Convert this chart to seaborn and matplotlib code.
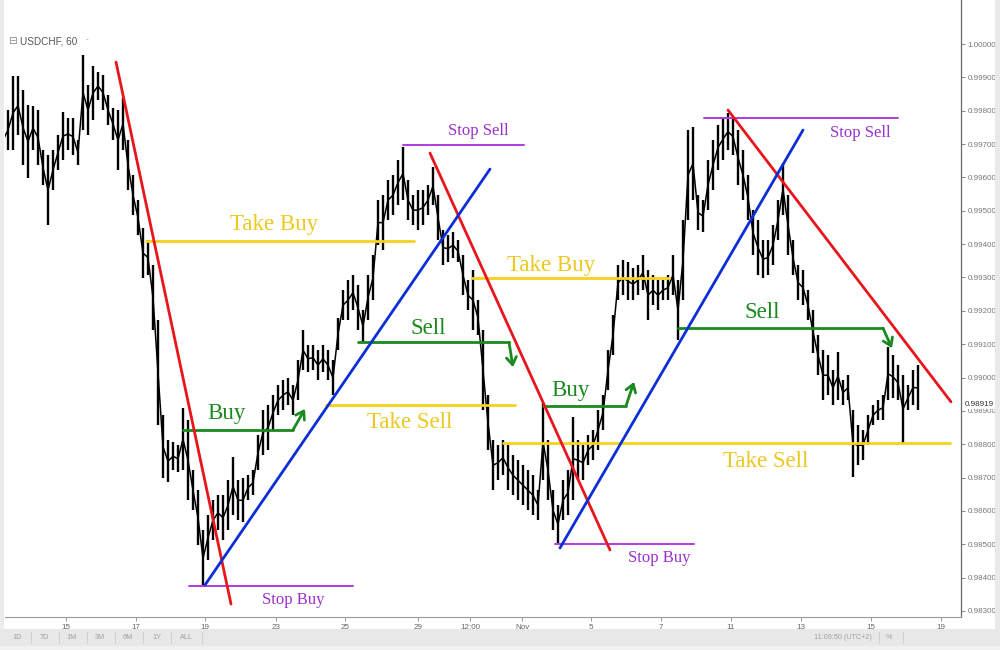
import numpy as np
import pandas as pd
import matplotlib
matplotlib.use("Agg")
import matplotlib.pyplot as plt
import matplotlib.transforms as mtrans
from matplotlib.patches import Rectangle
from matplotlib.ticker import FixedLocator, FuncFormatter
import seaborn as sns

# ---------------- data ----------------
symbol = "USDCHF, 60"
last_price = 0.98919

bar_high = [
    0.99742, 0.99802, 0.99904, 0.99904, 0.99862, 0.99817, 0.99814, 0.99802, 0.99682, 0.99667,
    0.99682, 0.99727, 0.99796, 0.99778, 0.99778, 0.99712, 0.99967, 0.99877, 0.99934, 0.99916,
    0.99907, 0.99847, 0.99808, 0.99802, 0.99838, 0.99712, 0.99607, 0.99532, 0.99448, 0.99412,
    0.99337, 0.99172, 0.98887, 0.98812, 0.98806, 0.98797, 0.98908, 0.98872, 0.98722, 0.98662,
    0.98542, 0.98587, 0.98632, 0.98647, 0.98647, 0.98692, 0.98761, 0.98692, 0.98698, 0.98707,
    0.98722, 0.98827, 0.98902, 0.98917, 0.98947, 0.98977, 0.98992, 0.98998, 0.98977, 0.99052,
    0.99142, 0.99097, 0.99097, 0.99082, 0.99097, 0.99082, 0.99052, 0.99178, 0.99262, 0.99292,
    0.99307, 0.99277, 0.99202, 0.99307, 0.99367, 0.99532, 0.99547, 0.99592, 0.99607, 0.99652,
    0.99691, 0.99592, 0.99547, 0.99562, 0.99562, 0.99577, 0.99631, 0.99547, 0.99442, 0.99427,
    0.99436, 0.99412, 0.99367, 0.99292, 0.99322, 0.99232, 0.99142, 0.98947, 0.98812, 0.98797,
    0.98812, 0.98797, 0.98767, 0.98752, 0.98737, 0.98722, 0.98707, 0.98662, 0.98923, 0.98812,
    0.98662, 0.98617, 0.98692, 0.98722, 0.98881, 0.98812, 0.98797, 0.98827, 0.98842, 0.98902,
    0.98947, 0.99082, 0.99187, 0.99337, 0.99352, 0.99346, 0.99328, 0.99337, 0.99367, 0.99322,
    0.99307, 0.99292, 0.99292, 0.99307, 0.99367, 0.99292, 0.99472, 0.99742, 0.99751, 0.99547,
    0.99532, 0.99652, 0.99712, 0.99757, 0.99778, 0.99793, 0.99778, 0.99742, 0.99682, 0.99607,
    0.99502, 0.99472, 0.99412, 0.99412, 0.99457, 0.99532, 0.99643, 0.99547, 0.99412, 0.99337,
    0.99322, 0.99262, 0.99202, 0.99127, 0.99082, 0.99067, 0.99022, 0.99076, 0.98992, 0.99007,
    0.98902, 0.98857, 0.98842, 0.98887, 0.98917, 0.98932, 0.98947, 0.99091, 0.99067, 0.99037,
    0.99007, 0.98977, 0.99022, 0.99037,
]
bar_low = [
    0.99682, 0.99682, 0.99682, 0.99727, 0.99637, 0.99598, 0.99682, 0.99637, 0.99577, 0.99457,
    0.99562, 0.99622, 0.99652, 0.99682, 0.99667, 0.99637, 0.99742, 0.99727, 0.99772, 0.99832,
    0.99802, 0.99757, 0.99712, 0.99622, 0.99682, 0.99562, 0.99487, 0.99427, 0.99298, 0.99307,
    0.99142, 0.98857, 0.98698, 0.98686, 0.98722, 0.98716, 0.98722, 0.98632, 0.98602, 0.98497,
    0.98374, 0.98452, 0.98512, 0.98542, 0.98512, 0.98542, 0.98587, 0.98572, 0.98566, 0.98632,
    0.98647, 0.98722, 0.98767, 0.98782, 0.98842, 0.98887, 0.98902, 0.98917, 0.98887, 0.98932,
    0.99022, 0.99016, 0.99022, 0.98992, 0.99016, 0.98992, 0.98947, 0.99082, 0.99172, 0.99172,
    0.99202, 0.99142, 0.99106, 0.99172, 0.99232, 0.99397, 0.99382, 0.99472, 0.99487, 0.99517,
    0.99532, 0.99472, 0.99457, 0.99442, 0.99457, 0.99487, 0.99517, 0.99412, 0.99337, 0.99346,
    0.99358, 0.99346, 0.99247, 0.99202, 0.99142, 0.99127, 0.98902, 0.98782, 0.98662, 0.98692,
    0.98707, 0.98662, 0.98647, 0.98632, 0.98617, 0.98602, 0.98587, 0.98572, 0.98692, 0.98632,
    0.98542, 0.98503, 0.98572, 0.98587, 0.98632, 0.98692, 0.98692, 0.98737, 0.98752, 0.98782,
    0.98842, 0.98962, 0.99067, 0.99232, 0.99247, 0.99232, 0.99232, 0.99247, 0.99262, 0.99172,
    0.99217, 0.99202, 0.99232, 0.99232, 0.99247, 0.99112, 0.99232, 0.99472, 0.99532, 0.99442,
    0.99436, 0.99502, 0.99562, 0.99622, 0.99652, 0.99682, 0.99667, 0.99577, 0.99532, 0.99472,
    0.99367, 0.99307, 0.99298, 0.99307, 0.99337, 0.99412, 0.99487, 0.99367, 0.99307, 0.99232,
    0.99217, 0.99172, 0.99073, 0.99007, 0.98932, 0.98947, 0.98917, 0.98932, 0.98917, 0.98932,
    0.98701, 0.98737, 0.98752, 0.98797, 0.98857, 0.98872, 0.98872, 0.98932, 0.98938, 0.98932,
    0.98803, 0.98902, 0.98917, 0.98902,
]

# x-axis labels and the bar each one sits on
tick_labels = ["15", "17", "19", "23", "25", "29", "12:00", "Nov", "5", "7", "11", "13", "15", "19"]
tick_bars = [12.6, 26.6, 40.4, 54.6, 68.4, 83.0, 93.4, 103.8, 117.6, 131.6, 145.6, 159.6, 173.6, 187.6]

# price-axis labels
price_ticks = [0.983, 0.984, 0.985, 0.986, 0.987, 0.988, 0.989, 0.990, 0.991,
               0.992, 0.993, 0.994, 0.995, 0.996, 0.997, 0.998, 0.999, 1.000]

# trend lines: (start bar, start price, end bar, end price)
red_lines = [(22.6, 0.99946, 45.6, 0.98321),
             (85.4, 0.99673, 121.4, 0.98483),
             (145.0, 0.99802, 189.6, 0.98927)]
blue_lines = [(40.4, 0.98378, 97.4, 0.99625),
              (111.4, 0.98489, 160.0, 0.99742)]

# horizontal levels: (from bar, to bar, price)
stop_levels = [(37.2, 70.0, 0.98375), (80.0, 104.2, 0.99697),
               (110.4, 138.2, 0.98501), (140.2, 179.0, 0.99778)]
take_levels = [(28.6, 82.2, 0.99409), (64.6, 102.4, 0.98918),
               (93.8, 133.2, 0.99298), (100.0, 189.4, 0.98804)]
entry_levels = [(36.0, 58.0, 0.98843), (71.0, 101.2, 0.99106),
                (108.0, 124.6, 0.98915), (135.0, 176.0, 0.99148)]
# arrow tips after each entry level
entry_tips = [(60.4, 0.98906), (102.0, 0.99031), (126.2, 0.98987), (177.8, 0.99088)]

stop_names = ["Stop Buy", "Stop Sell", "Stop Buy", "Stop Sell"]
take_names = ["Take Buy", "Take Sell", "Take Buy", "Take Sell"]
entry_names = ["Buy", "Sell", "Buy", "Sell"]

# label anchor positions (layout)
stop_text_pos = [(58.0, 0.98333), (95.0, 0.99739), (131.2, 0.98459), (171.4, 0.99733)]
take_text_pos = [(54.2, 0.99460), (81.4, 0.98864), (109.6, 0.99337), (152.6, 0.98747)]
entry_text_pos = [(44.6, 0.98891), (85.0, 0.99148), (113.4, 0.98960), (151.8, 0.99196)]

# ---------------- styling ----------------
RED = "#e8161c"
BLUE = "#0c2ed8"
GOLD = "#f6d21a"
GOLD_TXT = "#ecc820"
GREEN = "#1b8a1e"
PURPLE = "#b03ae0"
PURPLE_TXT = "#9b2fd2"

sns.set_theme(style="white")
plt.rcParams["font.family"] = ["Liberation Sans", "DejaVu Sans"]

W, H = 1000, 650
fig = plt.figure(figsize=(W / 100, H / 100), dpi=100)
fig.patch.set_facecolor("white")

# chart frame
ax = fig.add_axes([5 / W, 33 / H, 956 / W, 617 / H])
ax.set_facecolor("white")
ax.set_xlim(0.4, 191.6)
ax.set_ylim(0.98282, 1.00132)

# price bars
idx = np.arange(len(bar_high))
hi = np.asarray(bar_high)
lo = np.asarray(bar_low)
ax.vlines(idx, lo, hi, color="black", lw=1.7, zorder=2)
ax.plot(idx, (hi + lo) / 2, color="black", lw=1.1, zorder=2)


def seg_frame(segs):
    rows = []
    for k, (x0, y0, x1, y1) in enumerate(segs):
        rows.append({"seg": k, "x": x0, "price": y0})
        rows.append({"seg": k, "x": x1, "price": y1})
    return pd.DataFrame(rows)


def level_frame(levels):
    return seg_frame([(a, p, b, p) for a, b, p in levels])


sns.lineplot(data=seg_frame(red_lines), x="x", y="price", units="seg", estimator=None,
             sort=False, color=RED, lw=2.0, ax=ax, zorder=4)
sns.lineplot(data=seg_frame(blue_lines), x="x", y="price", units="seg", estimator=None,
             sort=False, color=BLUE, lw=2.0, ax=ax, zorder=4)
sns.lineplot(data=level_frame(take_levels), x="x", y="price", units="seg", estimator=None,
             sort=False, color=GOLD, lw=2.0, ax=ax, zorder=3)
sns.lineplot(data=level_frame(stop_levels), x="x", y="price", units="seg", estimator=None,
             sort=False, color=PURPLE, lw=1.4, ax=ax, zorder=3)
sns.lineplot(data=level_frame(entry_levels), x="x", y="price", units="seg", estimator=None,
             sort=False, color=GREEN, lw=2.0, ax=ax, zorder=3)

for (a, b, p), (tx, tp) in zip(entry_levels, entry_tips):
    ax.annotate("", xy=(tx, tp), xytext=(b, p),
                arrowprops=dict(arrowstyle="->,head_length=0.45,head_width=0.3",
                                color=GREEN, lw=2.0, shrinkA=0, shrinkB=0),
                zorder=5)

serif = ["Liberation Serif", "DejaVu Serif"]
for name, (x, p) in zip(take_names, take_text_pos):
    ax.text(x, p, name, color=GOLD_TXT, fontsize=16.5, family=serif, ha="center", va="center", zorder=6)
for name, (x, p) in zip(entry_names, entry_text_pos):
    ax.text(x, p, name, color=GREEN, fontsize=16.5, family=serif, ha="center", va="center", zorder=6)
for name, (x, p) in zip(stop_names, stop_text_pos):
    ax.text(x, p, name, color=PURPLE_TXT, fontsize=12, family=serif, ha="center", va="center", zorder=6)

# axes / ticks
ax.set_xlabel("")
ax.set_ylabel("")
for s in ["top", "left"]:
    ax.spines[s].set_visible(False)
ax.spines["right"].set_color("#6a6a6a")
ax.spines["right"].set_linewidth(0.9)
ax.spines["bottom"].set_color("#9a9a9a")
ax.spines["bottom"].set_linewidth(0.8)

ax.yaxis.tick_right()
ax.yaxis.set_major_locator(FixedLocator(price_ticks))
ax.yaxis.set_major_formatter(FuncFormatter(lambda v, _: f"{v:.5f}"))
ax.tick_params(axis="y", which="both", right=True, left=False, length=3, width=0.7,
               color="#888888", labelsize=5.8, labelcolor="#777777", pad=1.5)
ax.set_xticks(tick_bars, tick_labels)
ax.tick_params(axis="x", bottom=True, length=3, width=0.7, color="#999999",
               labelsize=5.8, labelcolor="#666666", pad=2)

# last price tag
tr = mtrans.blended_transform_factory(ax.transAxes, ax.transData)
ax.text(1.0 + 4 / 956, last_price, f"{last_price:.5f}", transform=tr, fontsize=5.8,
        color="#333333", ha="left", va="center", zorder=10, clip_on=False,
        bbox=dict(boxstyle="square,pad=0.15", facecolor="white", edgecolor="none"))

# ---------------- surrounding chrome ----------------
def frect(x0, y0, x1, y1, color):
    fig.patches.append(Rectangle((x0 / W, 1 - y1 / H), (x1 - x0) / W, (y1 - y0) / H,
                                 transform=fig.transFigure, facecolor=color,
                                 edgecolor="none", zorder=0))

frect(0, 0, 4, 650, "#ececec")
frect(995, 0, 1000, 650, "#e9e9e9")
frect(0, 629, 1000, 646, "#e8e8e8")
frect(0, 646, 1000, 650, "#f1f1f1")

buttons = ["1D", "7D", "1M", "3M", "6M", "1Y", "ALL"]
btn_x = [17, 44, 72, 100, 128, 157, 186]
for lab, bx in zip(buttons, btn_x):
    fig.text(bx / W, 1 - 637.5 / H, lab, fontsize=5.2, color="#a0a0a0", ha="center", va="center")
for sx in [31, 59, 87, 115, 143, 171, 202]:
    fig.add_artist(plt.Line2D([sx / W, sx / W], [1 - 632 / H, 1 - 643 / H],
                              transform=fig.transFigure, color="#cfcfcf", lw=0.7))
fig.text(843 / W, 1 - 637.5 / H, "11:09:50 (UTC+2)", fontsize=5.2, color="#a0a0a0",
         ha="center", va="center")
fig.text(889 / W, 1 - 637.5 / H, "%", fontsize=5.2, color="#a0a0a0", ha="center", va="center")
for sx in [879, 903]:
    fig.add_artist(plt.Line2D([sx / W, sx / W], [1 - 632 / H, 1 - 643 / H],
                              transform=fig.transFigure, color="#cfcfcf", lw=0.7))

# symbol header
fig.text(8 / W, 1 - 41.5 / H, "\u229f", fontsize=7.5, color="#8a8a8a", ha="left", va="center",
         family=["DejaVu Sans"])
fig.text(20 / W, 1 - 41.5 / H, symbol, fontsize=7.2, color="#555555", ha="left", va="center")
fig.text(86 / W, 1 - 40 / H, "-", fontsize=6, color="#999999", ha="left", va="center")

fig.savefig("out.png", dpi=100)
